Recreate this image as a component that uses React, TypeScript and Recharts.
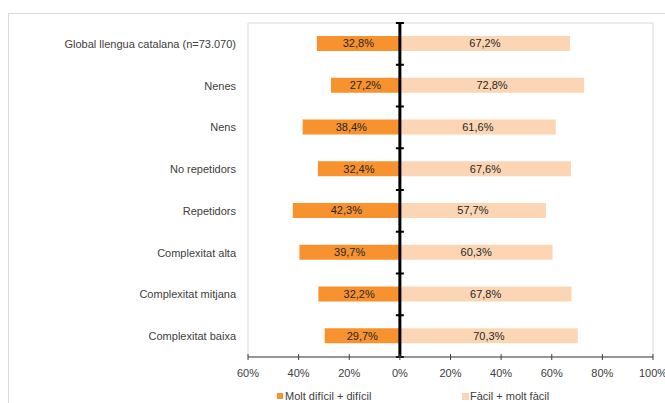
import {
  Bar,
  BarChart,
  LabelList,
  ReferenceArea,
  ReferenceLine,
  XAxis,
  YAxis,
} from "recharts";

const categories = [
  "Global llengua catalana (n=73.070)",
  "Nenes",
  "Nens",
  "No repetidors",
  "Repetidors",
  "Complexitat alta",
  "Complexitat mitjana",
  "Complexitat baixa",
];
const dificil = [32.8, 27.2, 38.4, 32.4, 42.3, 39.7, 32.2, 29.7];
const facil = [67.2, 72.8, 61.6, 67.6, 57.7, 60.3, 67.8, 70.3];
const xTicks = [-60, -40, -20, 0, 20, 40, 60, 80, 100];
const seriesNames = ["Molt difícil + difícil", "Fàcil + molt fàcil"];

const DARK = "#F7922F";
const LIGHT = "#FCD6B4";
const TEXT = "#404040";
const FONT = "'Liberation Sans', Arial, sans-serif";

// el costat "difícil" va cap a l'esquerra, per això és negatiu
const data = categories.map((name, i) => ({
  name,
  dificil: -dificil[i],
  facil: facil[i],
}));

const pct = (v: number) => `${Math.abs(v).toFixed(1).replace(".", ",")}%`;

function AxisTick({ x, y, payload }: any) {
  const axisY = y - 12;
  return (
    <g>
      <line x1={x} x2={x} y1={axisY - 3} y2={axisY + 3} stroke={TEXT} strokeWidth={1} />
      <text x={x} y={y} dy="0.71em" textAnchor="middle" fontSize={11} fill={TEXT} fontFamily={FONT}>
        {`${Math.abs(payload.value)}%`}
      </text>
    </g>
  );
}

// eix central amb les marques entre categories
function CenterLine(props: any) {
  const { x1, y1, x2, y2 } = props;
  const n = categories.length;
  const marks = [];
  for (let i = 0; i <= n; i++) {
    const y = y1 + ((y2 - y1) * i) / n;
    marks.push(<line key={i} x1={x1 - 4} x2={x1 + 4} y1={y} y2={y} stroke="#000" strokeWidth={2} />);
  }
  return (
    <g>
      <line x1={x1} y1={y1} x2={x2} y2={y2} stroke="#000" strokeWidth={3} />
      {marks}
    </g>
  );
}

export default function App() {
  return (
    <div style={{ position: "relative", width: 665, height: 403, overflow: "hidden", fontFamily: FONT }}>
      <style>{"body{margin:0;overflow:hidden}"}</style>
      <div
        style={{
          position: "absolute",
          left: 8,
          top: 13,
          width: 700,
          height: 500,
          border: "1px solid #d9d9d9",
          boxSizing: "border-box",
        }}
      />
      <div style={{ position: "absolute", left: 0, top: 0 }}>
        <BarChart
          width={665}
          height={403}
          data={data}
          layout="vertical"
          stackOffset="sign"
          barSize={15}
          margin={{ top: 23, right: 12, left: 0, bottom: 16 }}
        >
          <ReferenceArea x1={-60} x2={100} fill="none" stroke="#d9d9d9" strokeWidth={1} />
          <XAxis
            type="number"
            domain={[-60, 100]}
            ticks={xTicks}
            interval={0}
            height={30}
            axisLine={{ stroke: TEXT }}
            tickLine={false}
            tickSize={4}
            tickMargin={8}
            tick={<AxisTick />}
          />
          <YAxis
            type="category"
            dataKey="name"
            width={248}
            axisLine={false}
            tickLine={false}
            tickSize={0}
            tickMargin={12}
            tick={{ fontSize: 11, fill: TEXT, fontFamily: FONT }}
          />
          <Bar dataKey="dificil" stackId="a" fill={DARK} name={seriesNames[0]} isAnimationActive={false}>
            <LabelList dataKey="dificil" position="center" formatter={pct} fontSize={11} fill="#262626" fontFamily={FONT} />
          </Bar>
          <Bar dataKey="facil" stackId="a" fill={LIGHT} name={seriesNames[1]} isAnimationActive={false}>
            <LabelList dataKey="facil" position="center" formatter={pct} fontSize={11} fill="#262626" fontFamily={FONT} />
          </Bar>
          <ReferenceLine x={0} shape={<CenterLine />} />
        </BarChart>
      </div>
      <div style={{ position: "absolute", left: 277, top: 390, fontSize: 11, color: TEXT, display: "flex", alignItems: "center" }}>
        <span style={{ width: 6, height: 6, background: DARK, display: "inline-block", marginRight: 2 }} />
        {seriesNames[0]}
      </div>
      <div style={{ position: "absolute", left: 462, top: 390, fontSize: 11, color: TEXT, display: "flex", alignItems: "center" }}>
        <span style={{ width: 7, height: 7, background: LIGHT, display: "inline-block", marginRight: 1 }} />
        {seriesNames[1]}
      </div>
    </div>
  );
}
